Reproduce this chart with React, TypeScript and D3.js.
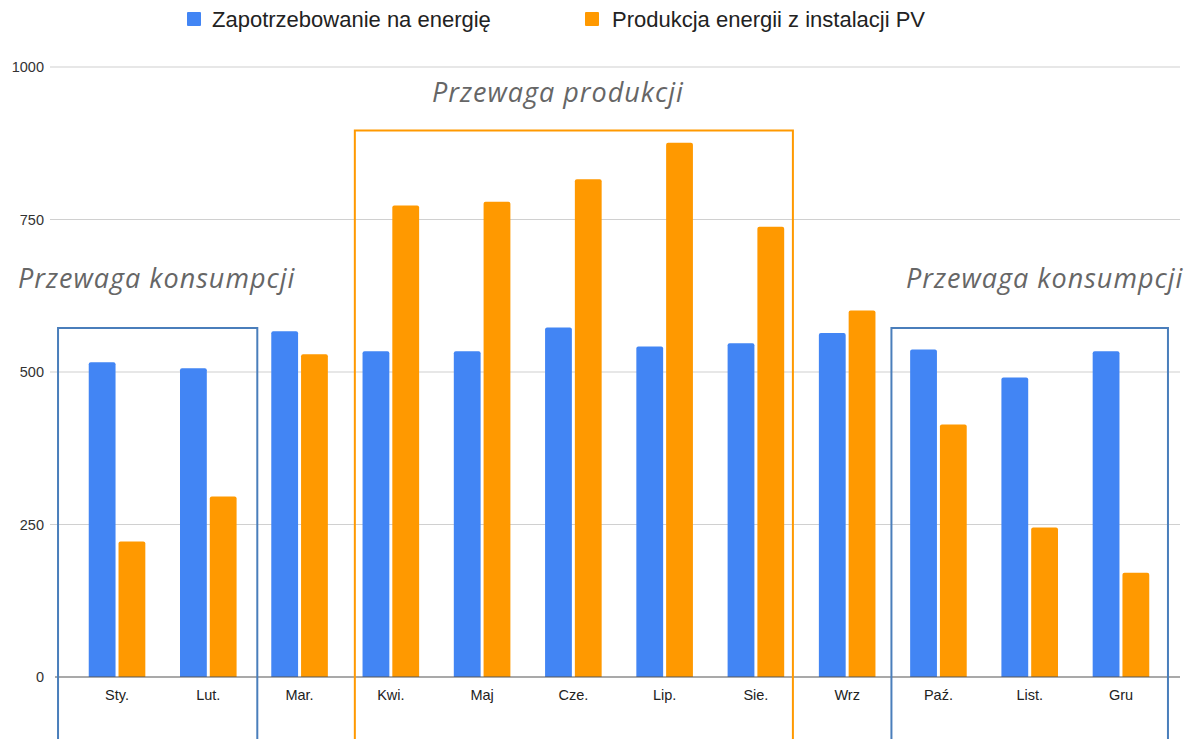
import React from "react";
import * as d3 from "d3";

const months = ["Sty.", "Lut.", "Mar.", "Kwi.", "Maj", "Cze.", "Lip.", "Sie.", "Wrz", "Paź.", "List.", "Gru"];
const demand = [516, 506, 567, 534, 534, 573, 542, 547, 564, 537, 491, 534];
const production = [222, 296, 529, 773, 779, 816, 876, 738, 601, 414, 245, 171];
const seriesNames = ["Zapotrzebowanie na energię", "Produkcja energii z instalacji PV"];
const seriesColors = ["#4285f4", "#ff9900"];
const yTicks = [0, 250, 500, 750, 1000];

// annotation boxes (hand-placed overlays in the original)
const boxes = [
  { from: "Sty.", to: "Lut.", padL: 59, padR: 49, top: 572, color: "#4a7ebb", label: "Przewaga konsumpcji", labelX: 18, labelY: 288 },
  { from: "Kwi.", to: "Sie.", padL: 36, padR: 37, top: 896, color: "#ff9900", label: "Przewaga produkcji", labelX: 432, labelY: 102 },
  { from: "Paź.", to: "Gru", padL: 47, padR: 47, top: 572, color: "#4a7ebb", label: "Przewaga konsumpcji", labelX: 906, labelY: 288 },
];

const W = 1187;
const H = 739;

const topRounded = (x: number, y: number, w: number, h: number, r: number) => {
  if (h < r) r = h;
  return `M${x},${y + h}V${y + r}Q${x},${y} ${x + r},${y}H${x + w - r}Q${x + w},${y} ${x + w},${y + r}V${y + h}Z`;
};

export default function App() {
  const x = d3.scaleBand<string>().domain(months).range([71.4, 1166.6]).paddingInner(0.38).paddingOuter(0.19);
  const step = x.step();
  const groupW = step * 0.62;
  const xs = d3.scaleBand<string>().domain(seriesNames).range([0, groupW]).paddingInner(0.1);
  const y = d3.scaleLinear().domain([0, 1000]).range([677, 67]);
  const center = (m: string) => (x(m) ?? 0) + x.bandwidth() / 2;
  const data = [demand, production];

  return (
    <svg width={W} height={H} style={{ position: "absolute", left: 0, top: 0, background: "#fff" }}>
      {/* legend */}
      <g fontFamily="'Liberation Sans', Arial, sans-serif" fontSize={22} fill="#222">
        <rect x={187} y={12} width={14} height={14} rx={1} fill={seriesColors[0]} />
        <text x={212} y={27}>{seriesNames[0]}</text>
        <rect x={585} y={12} width={14} height={14} rx={1} fill={seriesColors[1]} />
        <text x={612} y={27}>{seriesNames[1]}</text>
      </g>

      {/* gridlines */}
      {yTicks.map((t) => (
        <g key={t}>
          {t > 0 && <line x1={50} x2={1180} y1={y(t)} y2={y(t)} stroke="#d0d0d0" strokeWidth={1.2} />}
          <text x={44} y={y(t) + 5} textAnchor="end" fontFamily="'Liberation Sans', Arial, sans-serif" fontSize={14.5} fill="#333">
            {t}
          </text>
        </g>
      ))}

      {/* bars */}
      {months.map((m, i) => {
        const gx = center(m) - groupW / 2;
        return (
          <g key={m}>
            {seriesNames.map((s, k) => {
              const v = data[k][i];
              const bx = gx + (xs(s) ?? 0);
              return (
                <path key={s} d={topRounded(bx, y(v), xs.bandwidth(), y(0) - y(v), 2)} fill={seriesColors[k]} />
              );
            })}
            <text x={center(m)} y={700} textAnchor="middle" fontFamily="'Liberation Sans', Arial, sans-serif" fontSize={14.5} fill="#222">
              {m}
            </text>
          </g>
        );
      })}

      {/* baseline */}
      <line x1={55} x2={1180} y1={y(0)} y2={y(0)} stroke="#555" strokeWidth={1.2} />

      {/* annotation boxes */}
      {boxes.map((b, i) => {
        const x0 = center(b.from) - b.padL;
        const x1 = center(b.to) + b.padR;
        return (
          <g key={i}>
            <path d={`M${x0},${H + 5}V${y(b.top)}H${x1}V${H + 5}`} fill="none" stroke={b.color} strokeWidth={2} />
            <text x={b.labelX} y={b.labelY} fontFamily="'Open Sans', sans-serif" fontStyle="italic" fontSize={27} letterSpacing={1} fill="#666">
              {b.label}
            </text>
          </g>
        );
      })}
    </svg>
  );
}
